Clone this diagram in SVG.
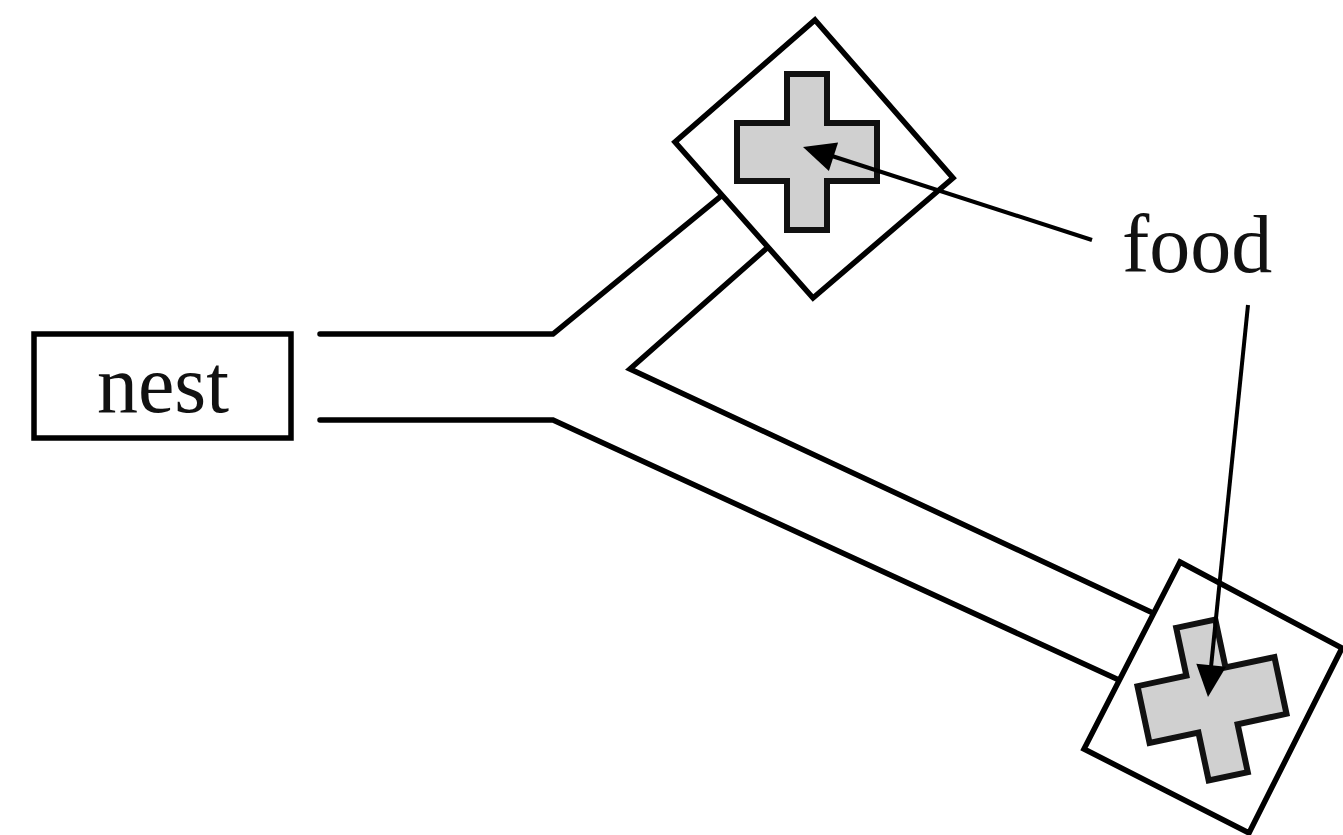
<svg xmlns="http://www.w3.org/2000/svg" width="1343" height="835" viewBox="0 0 1343 835">
  <style>
    .ln { fill: none; stroke: #000; stroke-width: 5.5; stroke-linejoin: miter; stroke-linecap: round; }
    .box { fill: #fff; stroke: #000; stroke-width: 5.5; }
    .cross { fill: #d0d0d0; stroke: #111; stroke-width: 6; stroke-linejoin: miter; }
    .lbl { font-family: "Liberation Serif", "Times New Roman", serif; font-size: 82px; fill: #111; }
    .arr { fill: none; stroke: #000; stroke-width: 4; }
    .head { fill: #000; stroke: none; }
  </style>
  <defs>
    <path id="crossShape" d="M-20,-78 H20 V-29 H70 V29 H20 V78 H-20 V29 H-70 V-29 H-20 Z"/>
  </defs>
  <rect width="1343" height="835" fill="#fff"/>

  <g id="connectors">
    <polyline class="ln" points="320,334 553,334 721,196"/>
    <polyline class="ln" points="320,420 553,420 1119,680"/>
    <polyline class="ln" points="767,248 630,369 1153,613"/>
  </g>

  <g id="nest">
    <rect class="box" x="34" y="334" width="257" height="104"/>
    <text class="lbl" x="163" y="412" text-anchor="middle">nest</text>
  </g>

  <g id="food-top">
    <polygon class="box" points="815,20 953,178 813,298 675,142"/>
    <use href="#crossShape" class="cross" transform="translate(807,152)"/>
  </g>

  <g id="food-bottom">
    <polygon class="box" points="1180,562 1342,648 1249,833 1084,749"/>
    <use href="#crossShape" class="cross" transform="translate(1212,700) rotate(-12)"/>
  </g>

  <g id="food-label">
    <text class="lbl" x="1122" y="272">food</text>
  </g>

  <g id="label-arrows">
    <line class="arr" x1="1092" y1="240" x2="832" y2="156"/>
    <polygon class="head" points="803,147 828.9,171.1 838.1,142.5"/>
    <line class="arr" x1="1248" y1="305" x2="1211" y2="667"/>
    <polygon class="head" points="1208,697 1226.1,666.7 1196.3,663.7"/>
  </g>
</svg>
